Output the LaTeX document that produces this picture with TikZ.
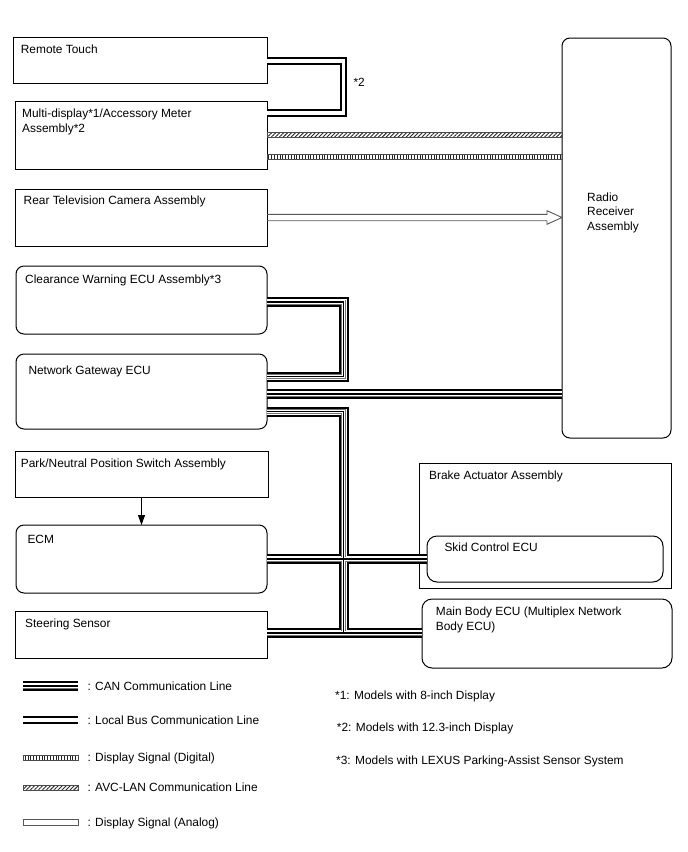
\documentclass[tikz,border=0pt]{standalone}
\usepackage{fontspec}
\setmainfont{Liberation Sans}
\usetikzlibrary{arrows.meta,patterns.meta,calc}
\newcommand\canlayers[1]{%
  \draw[line width=10pt,black] #1;
  \draw[line width=6pt,white] #1;
  \draw[line width=5pt,black!55] #1;
  \draw[line width=3.4pt,white] #1;
  \draw[line width=1.3pt,black] #1;}
\tikzset{
 box/.style={draw, line width=1pt, anchor=north west, inner sep=0pt, outer sep=0pt},
 rbox/.style={box, rounded corners=8pt},
 txt/.style={anchor=base west, inner sep=0pt, font=\fontsize{11.9}{14}\selectfont},
 lbus/.style={draw=black, line width=2pt, double=white, double distance=3.5pt},
 avc/.style={draw=black!70, line width=0.6pt, pattern={Lines[angle=45,distance=2.8pt,line width=0.9pt]}, pattern color=black!85},
 dig/.style={draw=black!70, line width=0.6pt, pattern={Lines[angle=90,distance=2.8pt,line width=1pt]}, pattern color=black!85},
 analog/.style={draw=black!65, line width=0.9pt},
 sig/.style={draw, line width=1pt, -{Triangle[length=10pt,width=7pt]}}
}
\begin{document}
\begin{tikzpicture}[x=1pt,y=-1pt]
\fill[white] (0,0) rectangle (688,852);
\useasboundingbox (0,0) rectangle (688,852);
% boxes
\node[box, minimum width=254pt, minimum height=46pt] (rt) at (13,37) {};
\node[box, minimum width=252pt, minimum height=68pt] (md) at (15,101) {};
\node[box, minimum width=252pt, minimum height=57pt] (rc) at (15,189) {};
\node[rbox, minimum width=251pt, minimum height=68pt] (cw) at (16,266) {};
\node[rbox, minimum width=251pt, minimum height=75pt] (ngw) at (16,354) {};
\node[box, minimum width=253pt, minimum height=46pt] (pn) at (15,451) {};
\node[rbox, minimum width=251pt, minimum height=68pt] (ecm) at (16,525) {};
\node[box, minimum width=252pt, minimum height=47pt] (ss) at (15,611) {};
\node[rbox, minimum width=109pt, minimum height=400pt] (rr) at (562,38) {};
\node[box, minimum width=252pt, minimum height=125pt] (ba) at (419,463) {};
\node[rbox, rounded corners=10pt, minimum width=236pt, minimum height=46pt] (skid) at (427,536) {};
\node[rbox, rounded corners=10pt, minimum width=250pt, minimum height=69pt] (mb) at (422,599) {};
% texts
\node[txt] (trt) at (20.7,53.5) {Remote Touch};
\node[txt] (tmd1) at (22,117.8) {Multi-display*1/Accessory Meter};
\node[txt] (tmd2) at (22,132.8) {Assembly*2};
\node[txt] (trc) at (23.5,204.2) {Rear Television Camera Assembly};
\node[txt] (tcw) at (25,283.8) {Clearance Warning ECU Assembly*3};
\node[txt] (tngw) at (28.3,374.5) {Network Gateway ECU};
\node[txt] (tpn) at (20.7,467.8) {Park/Neutral Position Switch Assembly};
\node[txt] (tecm) at (27.3,543.5) {ECM};
\node[txt] (tss) at (25,627.8) {Steering Sensor};
\node[txt] (tba) at (429,479.2) {Brake Actuator Assembly};
\node[txt] (tskid) at (444.3,551.5) {Skid Control ECU};
\node[txt] (tmb1) at (435.7,615.2) {Main Body ECU (Multiplex Network};
\node[txt] (tmb2) at (435.7,630.2) {Body ECU)};
\node[txt] (trr1) at (587,201.2) {Radio};
\node[txt] (trr2) at (587,215.8) {Receiver};
\node[txt] (trr3) at (587,230.2) {Assembly};
\node[txt] (star2) at (353.3,86.2) {*2};
% connectors
\draw[lbus] (rt.east |- 0,61) -| (343.7,113.2) -- (md.east |- 0,113.2);
\draw[avc] (md.east |- 0,132.7) rectangle (rr.west |- 0,137.3);
\draw[dig] (md.east |- 0,154) rectangle (rr.west |- 0,159.3);
\coordinate (a1) at (rc.east);
\coordinate (a2) at (rr.west |- rc.east);
\draw[analog] ($(a1)+(0,-3.2)$) -- ($(a2)+(-15,-3.2)$) -- ($(a2)+(-15,-6.8)$) -- (a2) -- ($(a2)+(-15,6.8)$) -- ($(a2)+(-15,3.2)$) -- ($(a1)+(0,3.2)$);
\coordinate (tr) at (343.5,633);
\canlayers{(cw.east |- 0,302) -- (343.5,302) |- (ngw.east |- 0,376.5) (ngw.east |- 0,394) -- (rr.west |- 0,394) (ngw.east |- 0,411.5) -| (tr) (ecm.east) -- (skid.west) (ss.east |- 0,633) -- (mb.west |- 0,633)}
\draw[sig] (pn.south) -- (ecm.north);
% legend
\coordinate (l1a) at (23,686); \coordinate (l1b) at (78,686);
\canlayers{(l1a) -- (l1b)}
\coordinate (l2a) at (23,720); \coordinate (l2b) at (78,720);
\draw[lbus] (l2a) -- (l2b);
\coordinate (l3a) at (23,755); \coordinate (l3b) at (78,760);
\draw[dig] (l3a) rectangle (l3b);
\coordinate (l4a) at (23,785); \coordinate (l4b) at (78,790);
\draw[avc] (l4a) rectangle (l4b);
\coordinate (l5a) at (23,819); \coordinate (l5b) at (78,825);
\draw[analog] (l5a) rectangle (l5b);
\node[txt] (lt1) at (87.3,690.3) {: CAN Communication Line};
\node[txt] (lt2) at (87.3,724.3) {: Local Bus Communication Line};
\node[txt] (lt3) at (87.3,761.8) {: Display Signal (Digital)};
\node[txt] (lt4) at (87.3,791.8) {: AVC-LAN Communication Line};
\node[txt] (lt5) at (87.3,826.3) {: Display Signal (Analog)};
\node[txt] (fn1) at (335,699.5) {*1: Models with 8-inch Display};
\node[txt] (fn2) at (336.7,731.8) {*2: Models with 12.3-inch Display};
\node[txt] (fn3) at (336,764.5) {*3: Models with LEXUS Parking-Assist Sensor System};
\end{tikzpicture}
\end{document}
